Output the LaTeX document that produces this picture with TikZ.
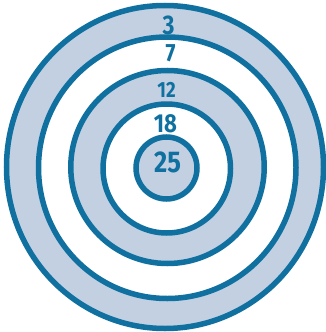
\documentclass[tikz,border=0pt]{standalone}
\usepackage{fontspec}
\setmainfont{Fira Sans}
\definecolor{ringblue}{RGB}{16,112,160}
\definecolor{ringfill}{RGB}{194,208,226}
\begin{document}
\begin{tikzpicture}[x=1pt,y=-1pt,
  ring/.style={draw=ringblue,line width=5.5pt},
  lbl/.style={text=ringblue,inner sep=0pt,xscale=0.85,font=\bfseries\fontsize{#1}{#1}\selectfont}]
\useasboundingbox (0,0) rectangle (326,332);
\fill[ringfill] (165,167) ellipse [x radius=158.5pt,y radius=161.5pt];
\fill[white] (167.25,167.75) ellipse [x radius=128.75pt,y radius=130.75pt];
\fill[ringfill] (167.5,167) ellipse [x radius=96.75pt,y radius=96.5pt];
\fill[white] (166.75,168.5) ellipse [x radius=63.75pt,y radius=64.5pt];
\fill[ringfill] (166.5,168) ellipse [x radius=30.5pt,y radius=31pt];
\draw[ring] (165,167) ellipse [x radius=158.5pt,y radius=161.5pt];
\draw[ring] (167.25,167.75) ellipse [x radius=128.75pt,y radius=130.75pt];
\draw[ring] (167.5,167) ellipse [x radius=96.75pt,y radius=96.5pt];
\draw[ring] (166.75,168.5) ellipse [x radius=63.75pt,y radius=64.5pt];
\draw[ring] (166.5,168) ellipse [x radius=30.5pt,y radius=31pt];
\node[lbl=27] (l3) at (168.5,25) {3};
\node[lbl=25] (l7) at (170.5,53.5) {7};
\node[lbl=22] (l12) at (166.5,89.5) {12};
\node[lbl=26] (l18) at (165.5,124) {18};
\node[lbl=30] (l25) at (167.5,162.5) {25};
\end{tikzpicture}
\end{document}
